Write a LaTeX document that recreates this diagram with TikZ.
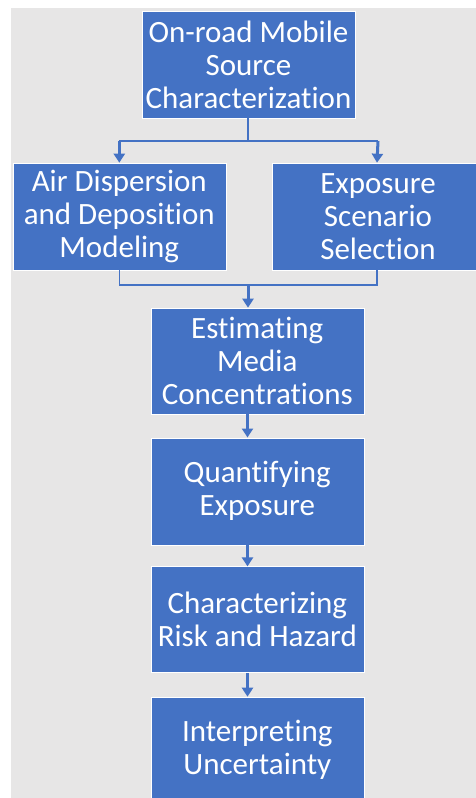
\documentclass[tikz,border=0pt]{standalone}
\usepackage{fontspec}
\setmainfont[Ligatures={NoCommon,NoRare}]{Carlito}
\usetikzlibrary{arrows.meta}
\definecolor{bgGray}{HTML}{E7E6E6}
\definecolor{boxBlue}{HTML}{4472C4}
\tikzset{
  stepbox/.style={rectangle, fill=boxBlue, draw=white, line width=0.6pt,
    minimum width=213pt, minimum height=107pt, inner sep=0pt, align=center,
    text=white, font=\fontsize{31}{33}\selectfont},
  conn/.style={draw=boxBlue, line width=1.3pt},
  arr/.style={draw=boxBlue, line width=3pt, -{Triangle[width=11pt,length=9pt]}}
}
\begin{document}
\begin{tikzpicture}[x=1pt,y=-1pt]
\useasboundingbox (0,0) rectangle (476,798);
\clip (0,0) rectangle (476,798);
\fill[bgGray] (11,8) rectangle (476,798);
\node[stepbox] (b1) at (248.5,64.5) {On-road Mobile\\Source\\Characterization};
\node[stepbox] (b2) at (119.3,216.5) {Air Dispersion\\and Deposition\\Modeling};
\node[stepbox, minimum width=212pt] (b3) at (378,216.5) {Exposure\\Scenario\\Selection};
\node[stepbox, minimum height=106pt] (b4) at (257.3,361) {Estimating\\Media\\Concentrations};
\node[stepbox] (b5) at (257.3,491.3) {Quantifying\\Exposure};
\node[stepbox, minimum height=106pt] (b6) at (257.3,619.7) {Characterizing\\Risk and Hazard};
\node[stepbox, minimum height=106pt] (b7) at (257.3,750) {Interpreting\\Uncertainty};
\coordinate (s1) at (248,141);
\coordinate (s2) at (248,285);
\coordinate (ax) at (247.5,0);
% top split
\draw[conn] (b1.south -| s1) -- (s1);
\draw[conn] (b2.north |- s1) -- (b3.north |- s1);
\draw[arr] (b2.north |- s1) -- (b2.north);
\draw[arr] (b3.north |- s1) -- ([xshift=-1pt]b3.north);
% merge
\draw[conn] (b2.south) -- (b2.south |- s2) -- ([xshift=-1pt]b3.south |- s2) -- ([xshift=-1pt]b3.south);
\draw[arr] (s2) -- (b4.north -| s2);
% chain
\draw[arr] (b4.south -| ax) -- (b5.north -| ax);
\draw[arr] (b5.south -| ax) -- (b6.north -| ax);
\draw[arr] (b6.south -| ax) -- (b7.north -| ax);
\end{tikzpicture}
\end{document}
